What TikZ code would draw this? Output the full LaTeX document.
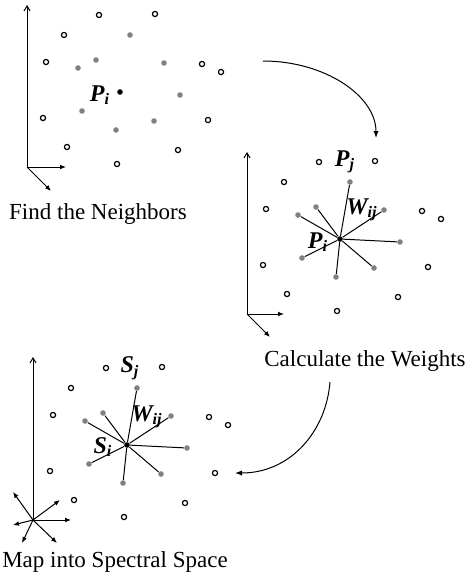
\documentclass[tikz,border=0pt]{standalone}
\usepackage{fontspec}
\setmainfont{Liberation Serif}
\usepackage{xcolor}
\definecolor{ptGray}{RGB}{128,128,128}
\usepackage{tikz}
\usetikzlibrary{positioning,arrows.meta}
\newcommand\lab[2]{\textbf{\textit{#1\textsubscript{#2}}}}

\begin{document}
\begin{tikzpicture}[x=0.5pt,y=-0.5pt,
  hd/.style={circle,draw,line width=0.6pt,inner sep=0pt,minimum size=2.6pt},
  gd/.style={circle,fill=ptGray,inner sep=0pt,minimum size=2.8pt},
  cd/.style={circle,fill=black,inner sep=0pt,minimum size=2.8pt},
  lb/.style={font=\fontsize{12}{14}\selectfont,inner sep=0pt},
  ct/.style={font=\fontsize{11.5}{13}\selectfont},
  ax/.style={line width=0.5pt,-{Latex[length=3pt,width=2.4pt]}},
  ay/.style={line width=0.5pt,-{Straight Barb[length=2.5pt,width=3pt]}},
  sp/.style={line width=0.5pt},
  a/.style={line width=0.5pt,-{Latex[length=3.5pt,width=2.6pt]}}]
  \useasboundingbox (0,0) rectangle (470,578);
  % the same point cloud in all three panels
  \foreach \n/\sx/\sy in {1/0/0,2/220/147,3/7/353}{
    \begin{scope}[shift={(\sx,\sy)}]
      \foreach \x/\y [count=\k] in {99/15,155/14,64/35,46/62,202/64,221/72,43/118,208/120,67/147,178/150,117/164}
        \node[hd] (h\n-\k) at (\x,\y) {};
      \foreach \x/\y [count=\k] in {130/35,96/60,78/68,164/63,180/95,82/111,154/121,116/130}
        \node[gd] (g\n-\k) at (\x,\y) {};
      \node[cd] (c\n) at (120,92) {};
    \end{scope}
  }
  % weights
  \foreach \n in {2,3}
    \foreach \k in {1,...,8}
      \draw[sp] (c\n) -- (g\n-\k);

  % axes
  \coordinate (o1) at (27,167);
  \coordinate (y1) at (27,5);
  \coordinate (x1) at (66,167);
  \coordinate (z1) at (51,191);
  \draw[ay] (o1) -- (y1); \draw[ax] (o1) -- (x1); \draw[ax] (o1) -- (z1);
  \coordinate (o2) at (247,314);
  \coordinate (y2) at (247,152);
  \coordinate (x2) at (284,314);
  \coordinate (z2) at (270,337);
  \draw[ay] (o2) -- (y2); \draw[ax] (o2) -- (x2); \draw[ax] (o2) -- (z2);
  \coordinate (o3) at (33,520);
  \coordinate (y3) at (33,357);
  \draw[ay] (o3) -- (y3);
  \foreach \x/\y [count=\k] in {71/520,60/500,13/492,13/525,22/543,57/543}{
    \coordinate (e3-\k) at (\x,\y);
    \draw[ax] (o3) -- (e3-\k);
  }

  % labels
  \node[lb] (pi1) at (100,95) {\lab{P}{i}};
  \node[lb] (pj2) at (345,162) {\lab{P}{j}};
  \node[lb] (wij2) at (362,210) {\lab{W}{ij}};
  \node[lb] (pi2) at (318,242) {\lab{P}{i}};
  \node[lb] (sj3) at (130,368) {\lab{S}{j}};
  \node[lb] (wij3) at (147,417) {\lab{W}{ij}};
  \node[lb] (si3) at (103,447) {\lab{S}{i}};

  \node[ct] (find) at (98,214) {Find the Neighbors};
  \node[ct] (calc) at (365,361) {Calculate the Weights};
  \node[ct] (map) at (115,562) {Map into Spectral Space};

  % steps
  \coordinate (s1) at (263,61); \coordinate (e1) at (376,138);
  \draw[a] (s1) .. controls (325,61) and (376,96) .. (e1);
  \coordinate (s2) at (330,382); \coordinate (e2) at (235,473);
  \draw[a] (s2) .. controls (326,432) and (290,473) .. (e2);
\end{tikzpicture}
\end{document}
